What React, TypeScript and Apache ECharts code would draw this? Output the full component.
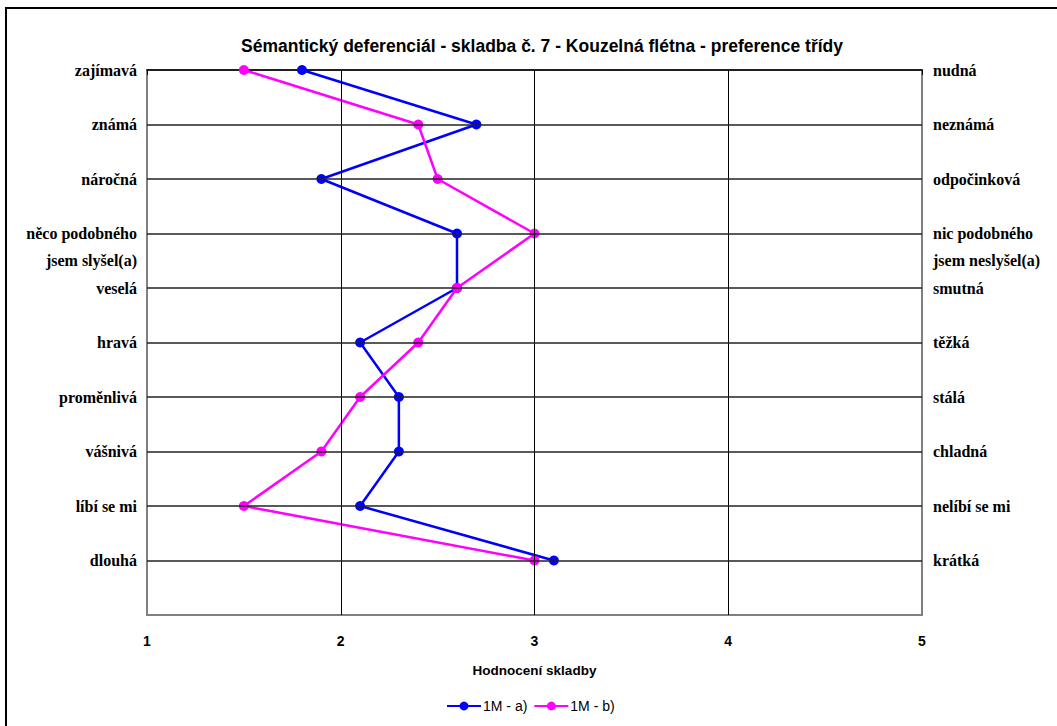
import React, { useEffect, useRef } from "react";
import * as echarts from "echarts";

// Semantic differential: adjective pairs (left / right pole)
const leftLabels = [
  "zajímavá",
  "známá",
  "náročná",
  "něco podobného\njsem slyšel(a)",
  "veselá",
  "hravá",
  "proměnlivá",
  "vášnivá",
  "líbí se mi",
  "dlouhá",
];
const rightLabels = [
  "nudná",
  "neznámá",
  "odpočinková",
  "nic podobného\njsem neslyšel(a)",
  "smutná",
  "těžká",
  "stálá",
  "chladná",
  "nelíbí se mi",
  "krátká",
];

// Average ratings (1 = left pole, 5 = right pole)
const classA = [1.8, 2.7, 1.9, 2.6, 2.6, 2.1, 2.3, 2.3, 2.1, 3.1];
const classB = [1.5, 2.4, 2.5, 3.0, 2.6, 2.4, 2.1, 1.9, 1.5, 3.0];

const seriesNames = ["1M - a)", "1M - b)"];
const xInnerTicks = [2, 3, 4];
const rowLines = [1, 2, 3, 4, 5, 6, 7, 8, 9];

const title =
  "Sémantický deferenciál - skladba č. 7 - Kouzelná flétna - preference třídy";
const xName = "Hodnocení skladby";

// A two-line label keeps its first line on the row: pad with a blank line above.
const rowLabel = (labels: string[]) => (v: number) => {
  const t = labels[v];
  if (!t) return "";
  return t.includes("\n") ? "\u00a0\n" + t : t;
};

export default function App() {
  const ref = useRef<HTMLDivElement>(null);

  useEffect(() => {
    if (!ref.current) return;
    const chart = echarts.init(ref.current, null, { renderer: "svg" });

    const serifLabel = {
      fontFamily: "'Liberation Serif', 'Times New Roman', serif",
      fontWeight: "bold" as const,
      fontSize: 16,
      color: "#000",
      lineHeight: 27,
    };
    const sans = "'Liberation Sans', Arial, sans-serif";

    chart.setOption({
      animation: false,
      backgroundColor: "#fff",
      title: {
        text: title,
        left: 537,
        top: 32,
        textAlign: "center",
        textStyle: {
          fontFamily: sans,
          fontWeight: "bold",
          fontSize: 17.5,
          color: "#000",
        },
      },
      grid: {
        left: 147,
        right: 135,
        top: 70,
        bottom: 111,
        show: true,
        borderColor: "#808080",
        borderWidth: 2,
        backgroundColor: "transparent",
      },
      legend: {
        bottom: 8,
        left: 441,
        itemWidth: 34,
        itemHeight: 11,
        itemGap: 6,
        data: seriesNames,
        textStyle: {
          fontFamily: sans,
          fontSize: 14,
          color: "#000",
          padding: [0, 0, 0, -3],
        },
      },
      xAxis: {
        type: "value",
        min: 1,
        max: 5,
        interval: 1,
        name: xName,
        nameLocation: "middle",
        nameGap: 48,
        nameTextStyle: {
          fontFamily: sans,
          fontWeight: "bold",
          fontSize: 13.5,
          color: "#000",
        },
        axisLine: { show: true, lineStyle: { color: "#000", width: 1.5 } },
        axisTick: { show: true, inside: false, length: 5, lineStyle: { color: "#000" } },
        axisLabel: {
          margin: 19,
          fontFamily: sans,
          fontWeight: "bold",
          fontSize: 14,
          color: "#000",
        },
        splitLine: { show: false },
      },
      yAxis: [
        {
          type: "value",
          min: 0,
          max: 10,
          interval: 1,
          inverse: true,
          position: "left",
          axisLine: { show: false },
          axisTick: { show: false },
          splitLine: { show: false },
          axisLabel: { ...serifLabel, margin: 10, formatter: rowLabel(leftLabels) },
        },
        {
          type: "value",
          min: 0,
          max: 10,
          interval: 1,
          inverse: true,
          position: "right",
          axisLine: { show: false },
          axisTick: { show: false },
          splitLine: { show: false },
          axisLabel: { ...serifLabel, margin: 11, formatter: rowLabel(rightLabels) },
        },
      ],
      series: [
        {
          name: "grid-lines",
          type: "line",
          data: [],
          z: 1,
          silent: true,
          markLine: {
            silent: true,
            symbol: "none",
            label: { show: false },
            animation: false,
            data: [
              ...xInnerTicks.map((x) => ({
                xAxis: x,
                lineStyle: { color: "#000", width: 1, type: "solid" },
              })),
              ...rowLines.map((y) => ({
                yAxis: y,
                lineStyle: { color: "#222", width: 1.5, type: "solid" },
              })),
            ],
          },
        },
        {
          name: seriesNames[0],
          type: "line",
          z: 3,
          data: classA.map((v, i) => [v, i]),
          color: "#0000ff",
          lineStyle: { width: 2.5, color: "#0000ff" },
          symbol: "circle",
          symbolSize: 10,
          itemStyle: { color: "#0000ff" },
        },
        {
          name: seriesNames[1],
          type: "line",
          z: 4,
          data: classB.map((v, i) => [v, i]),
          color: "#ff00ff",
          lineStyle: { width: 2.5, color: "#ff00ff" },
          symbol: "circle",
          symbolSize: 10,
          itemStyle: { color: "#ff00ff" },
        },
      ],
      graphic: [
        {
          type: "rect",
          silent: true,
          shape: { x: 6, y: 8, width: 1070, height: 740 },
          style: { fill: "none", stroke: "#000", lineWidth: 2 },
        },
      ],
    });

    return () => chart.dispose();
  }, []);

  return (
    <div
      ref={ref}
      style={{ position: "fixed", left: 0, top: 0, width: 1057, height: 726 }}
    />
  );
}
